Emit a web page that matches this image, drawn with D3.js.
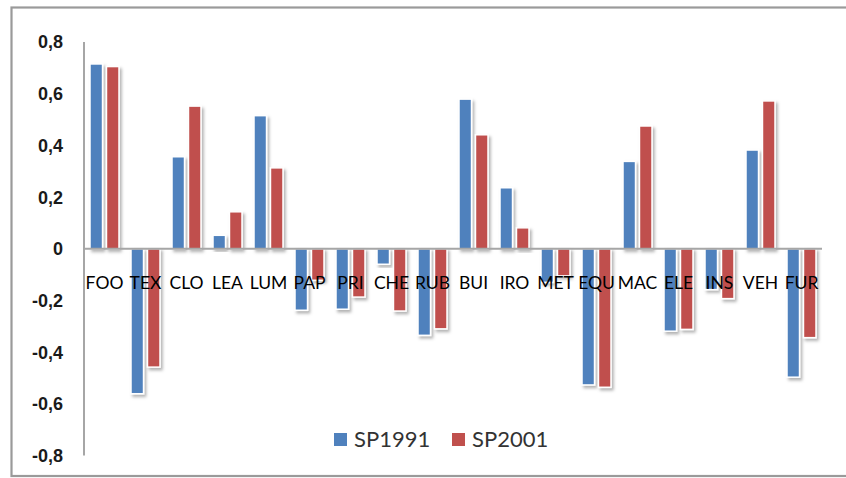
<!DOCTYPE html>
<html><head><meta charset="utf-8">
<script src="https://cdn.jsdelivr.net/npm/d3@7"></script>
<style>html,body{margin:0;padding:0;background:#fff;}svg{display:block;}</style>
</head><body>
<script>
const categories = ["FOO","TEX","CLO","LEA","LUM","PAP","PRI","CHE","RUB","BUI","IRO","MET","EQU","MAC","ELE","INS","VEH","FUR"];
const seriesNames = ["SP1991","SP2001"];
const sp1991 = [0.715,-0.561,0.356,0.052,0.515,-0.238,-0.234,-0.060,-0.335,0.579,0.236,-0.130,-0.527,0.338,-0.319,-0.158,0.382,-0.497];
const sp2001 = [0.705,-0.458,0.552,0.143,0.313,-0.122,-0.187,-0.241,-0.310,0.441,0.081,-0.105,-0.536,0.475,-0.312,-0.193,0.572,-0.344];
const yTicks = [0.8,0.6,0.4,0.2,0,-0.2,-0.4,-0.6,-0.8];
const colors = ["#4F81BD","#C0504D"];

const W = 846, H = 478;
const svg = d3.select("body").append("svg").attr("width", W).attr("height", H);

const defs = svg.append("defs");
const f = defs.append("filter").attr("id","sh").attr("x","-50%").attr("y","-20%").attr("width","200%").attr("height","140%");
f.append("feDropShadow").attr("dx",2).attr("dy",2.5).attr("stdDeviation",1.5).attr("flood-color","#000").attr("flood-opacity",0.3);

// frame
svg.append("rect").attr("x",11.5).attr("y",7.5).attr("width",860).attr("height",468.5)
  .attr("fill","#fff").attr("stroke","#9a9a9a").attr("stroke-width",2.2);

const x0 = d3.scaleBand().domain(categories).range([84, 822]).padding(0);
const x1 = d3.scaleBand().domain(seriesNames).range([6, 35]).paddingInner(0.24).paddingOuter(0);
const y = d3.scaleLinear().domain([-0.8, 0.8]).range([455.5, 42]);

const data = categories.map((c,i)=>({cat:c, vals:[{s:"SP1991",v:sp1991[i]},{s:"SP2001",v:sp2001[i]}]}));

// y axis line
svg.append("line").attr("x1",84).attr("x2",84).attr("y1",y(0.8)).attr("y2",y(-0.8))
  .attr("stroke","#a6a6a6").attr("stroke-width",2);

// y tick labels
svg.append("g").selectAll("text").data(yTicks).join("text")
  .attr("x",63).attr("y",d=>y(d)).attr("dy","0.36em").attr("text-anchor","end")
  .attr("font-family","Liberation Sans, Arial, sans-serif").attr("font-weight","bold").attr("font-size",18)
  .attr("fill","#1a1a1a")
  .text(d=> d === 0 ? "0" : d3.format(".1f")(d).replace(".",",").replace("−","-"));

// bars
const g = svg.append("g");
g.selectAll("g.cat").data(data).join("g").attr("class","cat")
  .attr("transform",d=>`translate(${x0(d.cat)},0)`)
  .selectAll("rect").data(d=>d.vals).join("rect")
  .attr("x",d=>x1(d.s)).attr("width",x1.bandwidth())
  .attr("y",d=>y(Math.max(0,d.v))).attr("height",d=>Math.abs(y(d.v)-y(0)))
  .attr("fill",(d,i)=>colors[i]).attr("stroke","#fff").attr("stroke-width",1.5)
  .attr("filter","url(#sh)");

// zero line
svg.append("line").attr("x1",84).attr("x2",822).attr("y1",y(0)).attr("y2",y(0))
  .attr("stroke","#a6a6a6").attr("stroke-width",2);

// category labels
svg.append("g").selectAll("text").data(categories).join("text")
  .attr("x",d=>x0(d)+x0.bandwidth()/2).attr("y",289).attr("text-anchor","middle")
  .attr("font-family","Lato, sans-serif").attr("font-size",17.5).attr("fill","#000")
  .text(d=>d);

// legend
const leg = svg.append("g");
const legX = [334, 452];
seriesNames.forEach((s,i)=>{
  leg.append("rect").attr("x",legX[i]).attr("y",433).attr("width",13).attr("height",13).attr("fill",colors[i]);
  leg.append("text").attr("x",legX[i]+20).attr("y",447).attr("font-family","Lato, sans-serif")
    .attr("font-size",22).attr("fill","#333").text(s);
});
</script>
</body></html>
